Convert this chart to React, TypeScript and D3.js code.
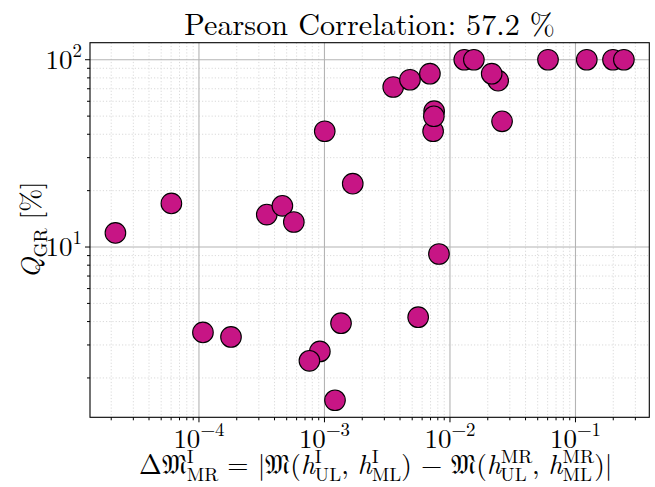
import React, { useEffect, useRef } from "react";
import * as d3 from "d3";

// ---- data ----
const deltaM: number[] = [
  2.16e-5, 6.03e-5, 1.076e-4, 1.8e-4, 3.47e-4, 4.62e-4, 5.7e-4, 9.19e-4, 7.59e-4,
  1.005e-3, 1.213e-3, 1.355e-3, 1.68e-3, 3.53e-3, 4.8e-3, 5.58e-3, 6.92e-3,
  7.48e-3, 7.34e-3, 7.44e-3, 8.17e-3, 1.3e-2, 1.55e-2, 2.42e-2, 2.15e-2, 2.6e-2,
  6.04e-2, 0.123, 0.199, 0.243,
];
const qGR: number[] = [
  11.9, 17.1, 3.5, 3.31, 14.9, 16.6, 13.6, 2.77, 2.47,
  41.5, 1.52, 3.92, 21.8, 71.5, 78.2, 4.22, 84.2,
  53.1, 41.5, 49.9, 9.18, 100, 100, 77.3, 84.2, 46.9,
  100, 100, 100, 100,
];
const titleText = "Pearson Correlation: 57.2 %";
const xMajorExps = [-4, -3, -2, -1];
const yMajorExps = [1, 2];

const W = 655;
const H = 487;
const left = 90;
const right = 649.3;
const top = 42.7;
const bottom = 417.3;
const FONT = "Latin Modern Roman, Liberation Serif, serif";
const TICKF = 27;
const LABF = 27.3;

function paddedLogDomain(vals: number[]): [number, number] {
  const lo = Math.log10(d3.min(vals) as number);
  const hi = Math.log10(d3.max(vals) as number);
  const m = (hi - lo) * 0.05;
  return [Math.pow(10, lo - m), Math.pow(10, hi + m)];
}

const xScale = d3.scaleLog().domain(paddedLogDomain(deltaM)).range([left, right]);
const yScale = d3.scaleLog().domain(paddedLogDomain(qGR)).range([bottom, top]);

function minorTicks(domain: number[]): number[] {
  const out: number[] = [];
  const a = Math.floor(Math.log10(domain[0]));
  const b = Math.ceil(Math.log10(domain[1]));
  for (let e = a; e <= b; e++) {
    for (let k = 2; k <= 9; k++) {
      const v = k * Math.pow(10, e);
      if (v >= domain[0] && v <= domain[1]) out.push(v);
    }
  }
  return out;
}

type Seg = { t: string; italic?: boolean; sup?: string; sub?: string };

const xLabelSegs: Seg[] = [
  { t: "Δ" },
  { t: "𝔐", sup: "I", sub: "MR" },
  { t: " = |𝔐(" },
  { t: "h", italic: true, sup: "I", sub: "UL" },
  { t: ", " },
  { t: "h", italic: true, sup: "I", sub: "ML" },
  { t: ") − 𝔐(" },
  { t: "h", italic: true, sup: "MR", sub: "UL" },
  { t: ", " },
  { t: "h", italic: true, sup: "MR", sub: "ML" },
  { t: ")|" },
];
const yLabelSegs: Seg[] = [
  { t: "Q", italic: true, sub: "GR" },
  { t: " [%]" },
];

function layoutMath(el: SVGTextElement, segs: Seg[], F: number) {
  const t = d3.select(el);
  t.selectAll("*").remove();
  let off = 0;
  let pendingDx = 0;
  for (const s of segs) {
    const b = t
      .append("tspan")
      .text(s.t)
      .attr("dy", 0 - off)
      .attr("font-style", s.italic ? "italic" : "normal");
    if (pendingDx) b.attr("dx", pendingDx);
    pendingDx = 0;
    off = 0;
    let supW = 0;
    if (s.sup) {
      const target = -0.42 * F;
      const sp = t
        .append("tspan")
        .text(s.sup)
        .attr("font-size", 0.7 * F)
        .attr("font-style", "normal")
        .attr("dy", target - off);
      off = target;
      supW = (sp.node() as SVGTextContentElement).getComputedTextLength();
    }
    if (s.sub) {
      const target = 0.24 * F;
      const sb = t
        .append("tspan")
        .text(s.sub)
        .attr("font-size", 0.7 * F)
        .attr("font-style", "normal")
        .attr("dy", target - off);
      off = target;
      if (s.sup) sb.attr("dx", -supW);
      const subW = (sb.node() as SVGTextContentElement).getComputedTextLength();
      if (s.sup && supW > subW) pendingDx = supW - subW;
    }
  }
}

export default function App() {
  const xLabRef = useRef<SVGTextElement>(null);
  const yLabRef = useRef<SVGTextElement>(null);

  useEffect(() => {
    if (xLabRef.current) layoutMath(xLabRef.current, xLabelSegs, LABF);
    if (yLabRef.current) layoutMath(yLabRef.current, yLabelSegs, LABF);
  }, []);

  const xd = xScale.domain();
  const yd = yScale.domain();
  const xMinor = minorTicks(xd);
  const yMinor = minorTicks(yd);
  const xMajor = xMajorExps.map((e) => Math.pow(10, e));
  const yMajor = yMajorExps.map((e) => Math.pow(10, e));
  const supF = TICKF * 0.7;

  return (
    <svg
      width={W}
      height={H}
      style={{ position: "absolute", left: 0, top: 0, background: "#fff", fontFamily: FONT }}
    >
      <rect x={0} y={0} width={W} height={H} fill="#fff" />
      {/* minor grid */}
      <g stroke="#d0d0d0" strokeWidth={0.8} strokeDasharray="1.2,2">
        {xMinor.map((v, i) => (
          <line key={"xm" + i} x1={xScale(v)} x2={xScale(v)} y1={top} y2={bottom} />
        ))}
        {yMinor.map((v, i) => (
          <line key={"ym" + i} y1={yScale(v)} y2={yScale(v)} x1={left} x2={right} />
        ))}
      </g>
      {/* major grid */}
      <g stroke="#b4b4b4" strokeWidth={1.1}>
        {xMajor.map((v, i) => (
          <line key={"xM" + i} x1={xScale(v)} x2={xScale(v)} y1={top} y2={bottom} />
        ))}
        {yMajor.map((v, i) => (
          <line key={"yM" + i} y1={yScale(v)} y2={yScale(v)} x1={left} x2={right} />
        ))}
      </g>
      {/* points */}
      <g>
        {deltaM.map((x, i) => (
          <circle
            key={"p" + i}
            cx={xScale(x)}
            cy={yScale(qGR[i])}
            r={10.3}
            fill="#c71585"
            stroke="#000"
            strokeWidth={1.1}
          />
        ))}
      </g>
      {/* frame */}
      <rect
        x={left}
        y={top}
        width={right - left}
        height={bottom - top}
        fill="none"
        stroke="#000"
        strokeWidth={1.1}
      />
      {/* ticks */}
      <g stroke="#000" strokeWidth={1}>
        {xMajor.map((v, i) => (
          <line key={"xt" + i} x1={xScale(v)} x2={xScale(v)} y1={bottom} y2={bottom + 5} />
        ))}
        {xMinor.map((v, i) => (
          <line key={"xtm" + i} x1={xScale(v)} x2={xScale(v)} y1={bottom} y2={bottom + 3} />
        ))}
        {yMajor.map((v, i) => (
          <line key={"yt" + i} y1={yScale(v)} y2={yScale(v)} x1={left} x2={left - 5} />
        ))}
        {yMinor.map((v, i) => (
          <line key={"ytm" + i} y1={yScale(v)} y2={yScale(v)} x1={left} x2={left - 3} />
        ))}
      </g>
      {/* tick labels */}
      <g fontSize={TICKF} fill="#000">
        {xMajorExps.map((e, i) => (
          <text key={"xl" + i} x={xScale(Math.pow(10, e))} y={447.5} textAnchor="middle">
            <tspan>10</tspan>
            <tspan fontSize={supF} dy={-0.42 * TICKF}>
              {e < 0 ? "−" + Math.abs(e) : String(e)}
            </tspan>
          </text>
        ))}
        {yMajorExps.map((e, i) => (
          <text key={"yl" + i} x={82} y={yScale(Math.pow(10, e)) + 8.8} textAnchor="end">
            <tspan>10</tspan>
            <tspan fontSize={supF} dy={-0.42 * TICKF}>
              {String(e)}
            </tspan>
          </text>
        ))}
      </g>
      {/* title */}
      <text x={(left + right) / 2} y={35} textAnchor="middle" fontSize={30.2} fill="#000">
        {titleText}
      </text>
      {/* axis labels */}
      <text
        ref={xLabRef}
        x={(left + right) / 2 + 6}
        y={474}
        textAnchor="middle"
        fontSize={LABF}
        fill="#000"
        style={{ whiteSpace: "pre" }}
      />
      <text
        ref={yLabRef}
        transform={`translate(40,${(top + bottom) / 2}) rotate(-90)`}
        textAnchor="middle"
        fontSize={LABF}
        fill="#000"
        style={{ whiteSpace: "pre" }}
      />
    </svg>
  );
}
